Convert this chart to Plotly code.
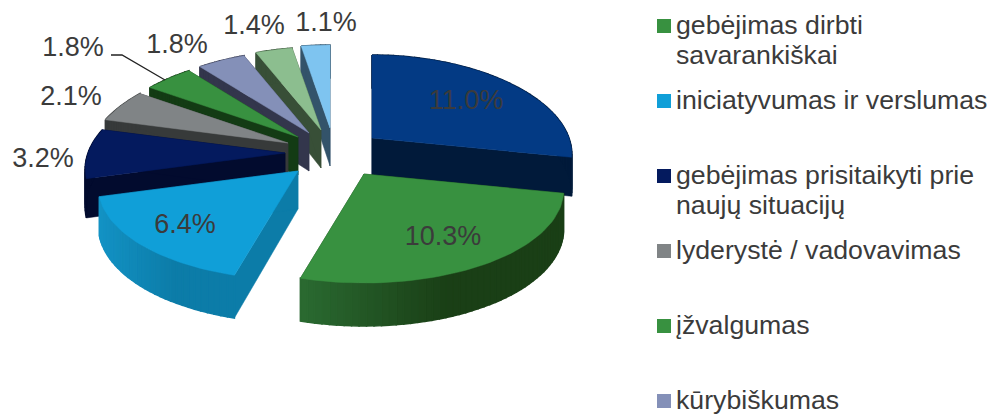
import math
import plotly.graph_objects as go

# ---- data ----
values = [11.0, 10.3, 6.4, 3.2, 2.1, 1.8, 1.8, 1.4, 1.1]
legend_names = [
    None,
    ["gebėjimas dirbti", "savarankiškai"],
    ["iniciatyvumas ir verslumas"],
    ["gebėjimas prisitaikyti prie", "naujų situacijų"],
    ["lyderystė / vadovavimas"],
    ["įžvalgumas"],
    ["kūrybiškumas"],
    None,
    None,
]
top_colors = ["#033A84", "#389140", "#109FD8", "#041A5E", "#808486",
              "#389140", "#8490B8", "#8CBE8F", "#7EC4F0"]
wall_colors = ["#011A3A", "#1A3F16", "#0C7CA8", "#020B2E", "#373A3A",
               "#133B14", "#33364C", "#384F37", "#33536A"]
rim_left_colors = ["#011A3A", "#2A6A31", "#1392C4", "#020B2E", "#373A3A",
                   "#133B14", "#33364C", "#384F37", "#33536A"]

# ---- exploded slice apex positions and label positions ----
apex_x = [372, 364, 298, 285, 288, 298, 309, 321, 330]
apex_y = [138, 174, 171, 153, 143, 137, 133, 130, 128]
label_x = [466, 443, 185, 43, 71, 73, 177, 254, 326]
label_y = [102, 238, 226, 160, 98, 49, 46, 27, 24]
paint_order = [8, 7, 6, 5, 4, 3, 2, 0, 1]

TEXT = "#3B3B3B"
FONT = "Liberation Sans"
LABEL_SIZE = 27
LEGEND_SIZE = 26.7


def project(theta, radius=1.0):
    u = math.sin(theta) * radius
    v = -math.cos(theta) * radius
    return 197 * u * (1 + 0.17 * v), 96 * v + 13 * v * v, v


def depth(v):
    return 38 + 5 * v


def mix(c1, c2, t):
    a = [int(c1[i:i + 2], 16) for i in (1, 3, 5)]
    b = [int(c2[i:i + 2], 16) for i in (1, 3, 5)]
    return "#%02X%02X%02X" % tuple(round(p + (q - p) * t) for p, q in zip(a, b))


fig = go.Figure()


def poly(xs, ys, color, width=0.5):
    fig.add_trace(go.Scatter(
        x=xs + xs[:1], y=ys + ys[:1], mode="lines", fill="toself",
        fillcolor=color, line=dict(color=color, width=width),
        hoverinfo="skip", showlegend=False))


total = sum(values)
starts = []
acc = 0.0
for val in values:
    starts.append(acc)
    acc += val

for i in paint_order:
    a0 = starts[i] / total * 2 * math.pi
    a1 = (starts[i] + values[i]) / total * 2 * math.pi
    n = max(6, int(values[i] * 5))
    angles = [a0 + (a1 - a0) * k / n for k in range(n + 1)]
    cx, cy = apex_x[i], apex_y[i]
    pts = [project(t) for t in angles]
    rim_x = [cx + p[0] for p in pts]
    rim_y = [cy + p[1] for p in pts]
    low_y = [cy + p[1] + depth(p[2]) for p in pts]
    d0 = depth(0)
    # radial walls
    for e in (0, n):
        poly([cx, rim_x[e], rim_x[e], cx],
             [cy, rim_y[e], low_y[e], cy + d0], wall_colors[i])
    # outer rim wall, shaded
    min_x, max_x = min(rim_x), max(rim_x)
    for k in range(n):
        mid = (rim_x[k] + rim_x[k + 1]) / 2
        t = min(1.0, (mid - min_x) / max(1.0, (max_x - min_x) * 0.55))
        poly([rim_x[k], rim_x[k + 1], rim_x[k + 1], rim_x[k]],
             [rim_y[k], rim_y[k + 1], low_y[k + 1], low_y[k]],
             mix(rim_left_colors[i], wall_colors[i], t), width=1.5)
    # top face
    poly([cx] + rim_x, [cy] + rim_y, top_colors[i])

# leader line of the left 1.8 % label
fig.add_trace(go.Scatter(x=[111, 122, 165], y=[55, 55, 80], mode="lines",
                         line=dict(color="#222222", width=1.3),
                         hoverinfo="skip", showlegend=False))

# value labels
fig.add_trace(go.Scatter(
    x=label_x, y=label_y, mode="text",
    text=[f"{v:.1f}%" for v in values], textposition="middle center",
    textfont=dict(family=FONT, size=LABEL_SIZE, color=TEXT),
    hoverinfo="skip", showlegend=False, cliponaxis=False))

# legend
leg_y = 26
mark_x, mark_y, mark_c, txt_x, txt_y, txt = [], [], [], [], [], []
for i, names in enumerate(legend_names):
    if names is None:
        continue
    mark_x.append(664)
    mark_y.append(leg_y)
    mark_c.append(top_colors[i])
    for j, line in enumerate(names):
        txt_x.append(676)
        txt_y.append(leg_y + 1 + j * 30)
        txt.append(line)
    leg_y += 75
fig.add_trace(go.Scatter(
    x=mark_x, y=mark_y, mode="markers",
    marker=dict(symbol="square", size=14, color=mark_c, line=dict(width=0)),
    hoverinfo="skip", showlegend=False))
fig.add_trace(go.Scatter(
    x=txt_x, y=txt_y, mode="text", text=txt, textposition="middle right",
    textfont=dict(family=FONT, size=LEGEND_SIZE, color=TEXT),
    hoverinfo="skip", showlegend=False, cliponaxis=False))

fig.update_layout(
    width=992, height=414, margin=dict(l=0, r=0, t=0, b=0),
    paper_bgcolor="white", plot_bgcolor="white", showlegend=False,
    xaxis=dict(range=[0, 992], visible=False, fixedrange=True),
    yaxis=dict(range=[414, 0], visible=False, fixedrange=True),
)
fig.write_html("out.html", config={"displayModeBar": False},
               post_script="document.body.style.margin='0';document.body.style.overflow='hidden';")
